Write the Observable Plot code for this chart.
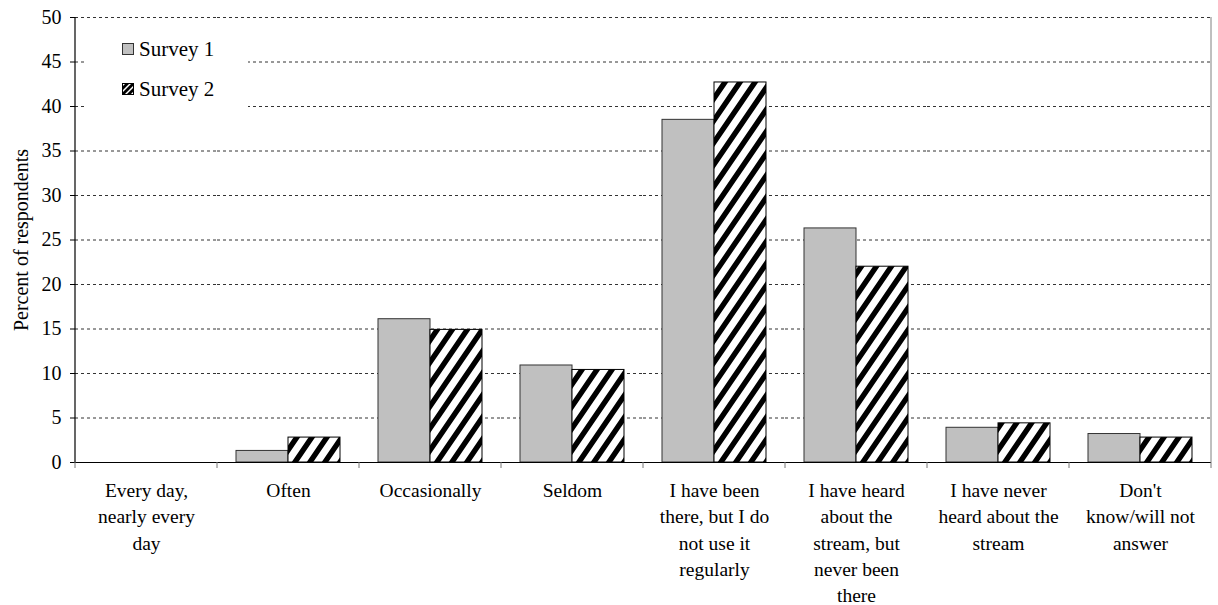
<!DOCTYPE html>
<html>
<head>
<meta charset="utf-8">
<script src="https://cdn.jsdelivr.net/npm/d3@7"></script>
<script src="https://cdn.jsdelivr.net/npm/@observablehq/plot@0.6"></script>
<style>
  html, body { margin: 0; padding: 0; background: white; }
  #wrap { position: relative; width: 1218px; height: 605px; font-family: "Liberation Serif", serif; }
  #legend { position: absolute; left: 84px; top: 26px; width: 164px; height: 100px; background: white; }
  .item { position: absolute; left: 38px; display: flex; align-items: center; font-size: 21px; line-height: 24px; color: black; }
  .item svg { margin-right: 5px; }
</style>
</head>
<body>
<svg width="0" height="0" style="position:absolute">
  <defs>
    <pattern id="hatch" patternUnits="userSpaceOnUse" width="15" height="22">
      <rect width="15" height="22" fill="white"></rect>
      <path d="M-5,7.33L20,-29.33M-5,29.33L20,-7.33M-5,51.33L20,14.67" stroke="black" stroke-width="5.4"></path>
    </pattern>
    <pattern id="hatchSmall" patternUnits="userSpaceOnUse" width="6" height="6">
      <rect width="6" height="6" fill="white"></rect>
      <path d="M-2,2L2,-2M0,6L6,0M4,8L8,4" stroke="black" stroke-width="2.8"></path>
    </pattern>
  </defs>
</svg>
<div id="wrap">
  <div id="chart"></div>
  <div id="legend">
    <div class="item" style="top:11px"><svg width="12" height="12"><rect x="0.5" y="0.5" width="11" height="11" fill="#c0c0c0" stroke="#333"></rect></svg>Survey 1</div>
    <div class="item" style="top:51px"><svg width="12" height="12"><rect x="0.5" y="0.5" width="11" height="11" fill="url(#hatchSmall)" stroke="black"></rect></svg>Survey 2</div>
  </div>
</div>
<script>
// Response categories (one per group of bars)
const categories = [
  "Every day, nearly every day",
  "Often",
  "Occasionally",
  "Seldom",
  "I have been there, but I do not use it regularly",
  "I have heard about the stream, but never been there",
  "I have never heard about the stream",
  "Don't know/will not answer"
];

// Wrapped tick labels for the categories
const categoryLabels = [
  "Every day,\nnearly every\nday",
  "Often",
  "Occasionally",
  "Seldom",
  "I have been\nthere, but I do\nnot use it\nregularly",
  "I have heard\nabout the\nstream, but\nnever been\nthere",
  "I have never\nheard about the\nstream",
  "Don't\nknow/will not\nanswer"
];

const seriesNames = ["Survey 1", "Survey 2"];

// Percent of respondents per category
const survey1 = [0, 1.3, 16.1, 10.9, 38.5, 26.3, 3.9, 3.2];
const survey2 = [0, 2.8, 14.9, 10.4, 42.7, 22.0, 4.4, 2.8];

const yTicks = [0, 5, 10, 15, 20, 25, 30, 35, 40, 45, 50];
const gridTicks = [5, 10, 15, 20, 25, 30, 35, 40, 45, 50];

const rows = categories.flatMap((c, i) => [
  {category: c, survey: seriesNames[0], value: survey1[i]},
  {category: c, survey: seriesNames[1], value: survey2[i]}
]);

const labelOf = new Map(categories.map((c, i) => [c, categoryLabels[i]]));

const chart = Plot.plot({
  width: 1218,
  height: 605,
  marginLeft: 72,
  marginRight: 4,
  marginTop: 17,
  marginBottom: 143,
  style: {fontFamily: "Liberation Serif", fontSize: "19.5px", color: "black", background: "white"},
  fx: {domain: categories, padding: 0, axis: null},
  x: {domain: seriesNames, paddingInner: 0, paddingOuter: 0.35, axis: null},
  y: {domain: [0, 50], axis: null},
  marks: [
    Plot.ruleY(gridTicks, {stroke: "#333", strokeDasharray: "3,3", strokeWidth: 1}),
    Plot.barY(rows, {
      filter: d => d.survey === seriesNames[0],
      fx: "category", x: "survey", y: "value",
      fill: "#c0c0c0", stroke: "#333", strokeWidth: 1
    }),
    Plot.barY(rows, {
      filter: d => d.survey === seriesNames[1],
      fx: "category", x: "survey", y: "value",
      fill: "url(#hatch)", stroke: "black", strokeWidth: 1
    }),
    Plot.ruleY([0], {stroke: "black", strokeWidth: 1.2}),
    Plot.axisY(yTicks, {
      anchor: "left",
      tickSize: 5,
      tickPadding: 9,
      fontSize: 20,
      label: "Percent of respondents",
      labelAnchor: "center",
      labelOffset: 62,
      labelArrow: false
    }),
    Plot.axisFx({
      anchor: "bottom",
      tickSize: 0,
      tickPadding: 16,
      lineHeight: 1.346,
      tickFormat: c => labelOf.get(c),
      label: null
    })
  ]
});

document.getElementById("chart").appendChild(chart);

// Axis line, right border and category boundary ticks, placed from the scales
const fx = chart.scale("fx");
const y = chart.scale("y");
const y0 = y.apply(0);
const yTop = y.apply(50);
const edges = categories.map(c => fx.apply(c));
const rightEdge = fx.apply(categories[categories.length - 1]) + fx.bandwidth;
edges.push(rightEdge);
const svg = d3.select(chart);
const g = svg.append("g");
g.selectAll("line.edge").data(edges).join("line")
  .attr("class", "edge")
  .attr("x1", d => d).attr("x2", d => d)
  .attr("y1", y0).attr("y2", y0 + 6)
  .attr("stroke", "#777");
g.append("line")
  .attr("x1", rightEdge).attr("x2", rightEdge)
  .attr("y1", yTop).attr("y2", y0)
  .attr("stroke", "#808080");
g.append("line")
  .attr("x1", edges[0]).attr("x2", edges[0])
  .attr("y1", yTop).attr("y2", y0)
  .attr("stroke", "black").attr("stroke-width", 1.2);
</script>
</body>
</html>
